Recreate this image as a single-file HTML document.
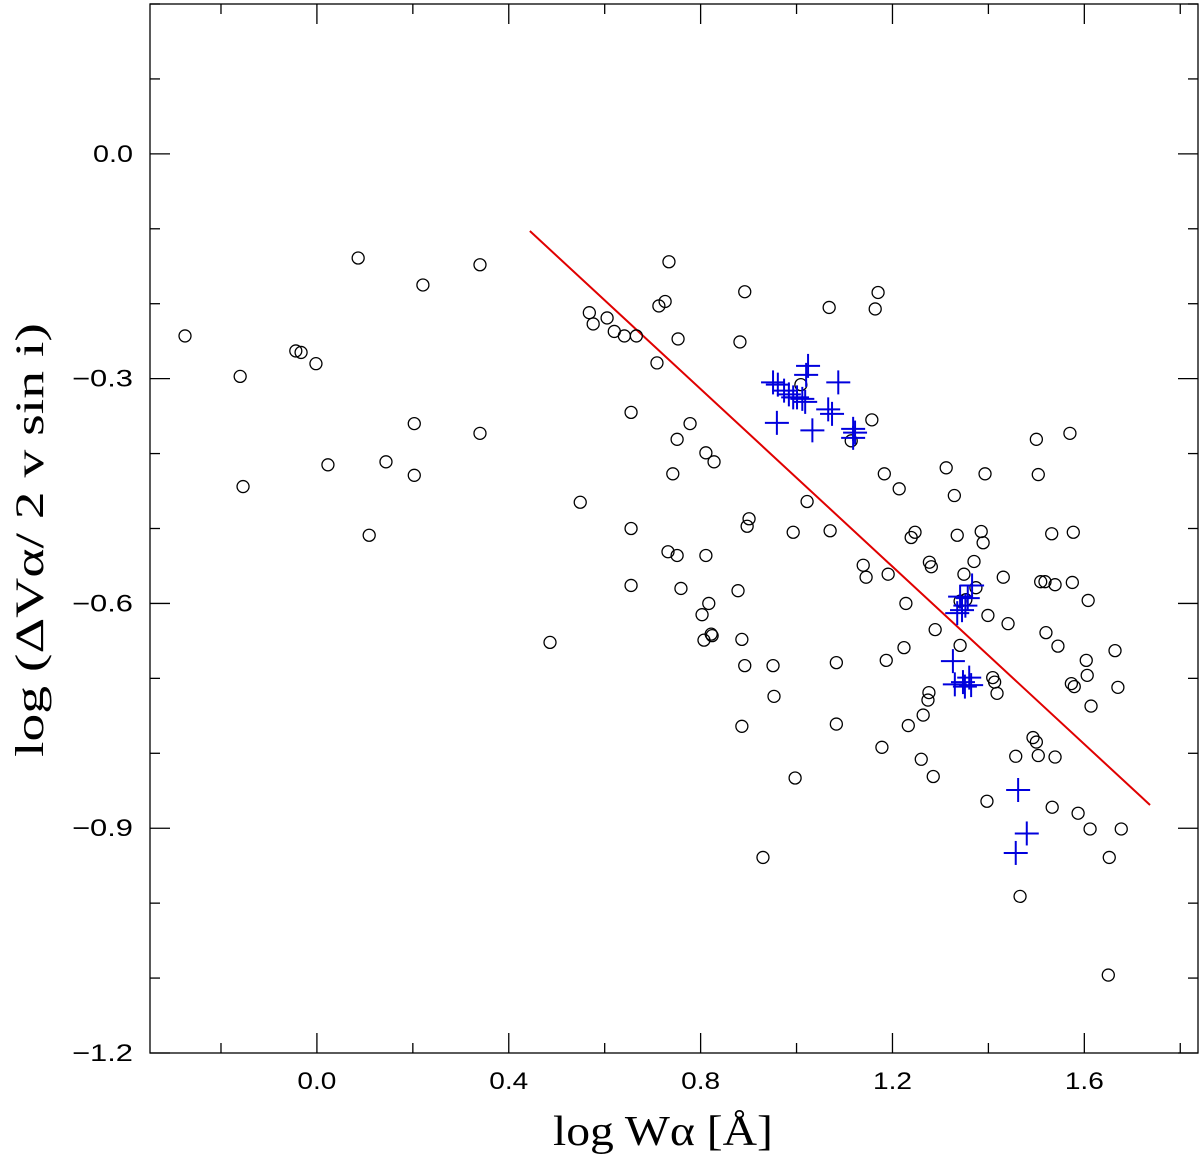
<!DOCTYPE html>
<html><head><meta charset="utf-8"><style>
html,body{margin:0;padding:0;background:#fff;}
svg{display:block;}
</style></head><body>
<svg id="chart" width="1200" height="1158" xmlns="http://www.w3.org/2000/svg"></svg>
<script>
const circleX=[-0.275,-0.16,-0.154,-0.044,-0.033,-0.002,0.023,0.086,0.109,0.144,0.203,0.203,0.221,0.34,0.34,0.486,0.549,0.568,0.576,0.605,0.62,0.641,0.666,0.655,0.655,0.655,0.709,0.713,0.726,0.734,0.732,0.742,0.751,0.753,0.759,0.751,0.778,0.803,0.807,0.811,0.817,0.811,0.822,0.824,0.828,0.878,0.882,0.886,0.886,0.892,0.892,0.897,0.901,0.951,0.953,0.993,0.997,0.93,1.009,1.022,1.068,1.07,1.083,1.083,1.114,1.139,1.145,1.157,1.164,1.17,1.183,1.187,1.191,1.178,1.214,1.224,1.228,1.233,1.239,1.247,1.26,1.264,1.277,1.281,1.289,1.274,1.276,1.285,1.312,1.329,1.335,1.341,1.341,1.349,1.353,1.37,1.374,1.389,1.385,1.393,1.399,1.397,1.409,1.413,1.418,1.431,1.441,1.457,1.466,1.493,1.5,1.504,1.5,1.504,1.509,1.518,1.52,1.532,1.539,1.545,1.539,1.533,1.57,1.575,1.577,1.573,1.579,1.604,1.606,1.608,1.587,1.612,1.614,1.652,1.664,1.67,1.677,1.65];
const circleY=[-0.243,-0.297,-0.444,-0.263,-0.265,-0.28,-0.415,-0.139,-0.509,-0.411,-0.36,-0.429,-0.175,-0.148,-0.373,-0.652,-0.465,-0.212,-0.227,-0.219,-0.237,-0.243,-0.243,-0.345,-0.5,-0.576,-0.279,-0.203,-0.197,-0.144,-0.531,-0.427,-0.536,-0.247,-0.58,-0.381,-0.36,-0.615,-0.649,-0.399,-0.6,-0.536,-0.641,-0.643,-0.411,-0.583,-0.251,-0.648,-0.764,-0.184,-0.683,-0.497,-0.487,-0.683,-0.724,-0.505,-0.833,-0.939,-0.308,-0.464,-0.205,-0.503,-0.679,-0.761,-0.383,-0.549,-0.565,-0.355,-0.207,-0.185,-0.427,-0.676,-0.561,-0.792,-0.447,-0.659,-0.6,-0.763,-0.512,-0.505,-0.808,-0.749,-0.545,-0.551,-0.635,-0.729,-0.719,-0.831,-0.419,-0.456,-0.509,-0.656,-0.597,-0.561,-0.595,-0.544,-0.579,-0.519,-0.504,-0.427,-0.616,-0.864,-0.699,-0.705,-0.72,-0.565,-0.627,-0.804,-0.991,-0.779,-0.785,-0.803,-0.381,-0.428,-0.571,-0.571,-0.639,-0.507,-0.575,-0.657,-0.805,-0.872,-0.373,-0.572,-0.505,-0.707,-0.711,-0.676,-0.696,-0.596,-0.88,-0.901,-0.737,-0.939,-0.663,-0.712,-0.901,-1.096];
const crossX=[0.951,0.961,0.974,0.984,0.993,1.001,1.012,1.018,1.024,1.02,0.959,1.033,1.066,1.074,1.087,1.122,1.118,1.118,1.352,1.341,1.345,1.335,1.366,1.357,1.326,1.33,1.36,1.364,1.347,1.351,1.462,1.457,1.48];
const crossY=[-0.305,-0.308,-0.316,-0.321,-0.325,-0.325,-0.327,-0.331,-0.283,-0.295,-0.359,-0.369,-0.341,-0.347,-0.305,-0.372,-0.367,-0.379,-0.603,-0.591,-0.609,-0.613,-0.576,-0.593,-0.677,-0.708,-0.699,-0.709,-0.705,-0.711,-0.849,-0.933,-0.907];
const fitX=[0.444,1.737];
const fitY=[-0.103,-0.869];
const xTickLabels=["0.0","0.4","0.8","1.2","1.6"];
const xTickValues=[0.0,0.4,0.8,1.2,1.6];
const yTickLabels=["0.0","\u22120.3","\u22120.6","\u22120.9","\u22121.2"];
const yTickValues=[0.0,-0.3,-0.6,-0.9,-1.2];

const L=150,R=1198,T=4,B=1053;
const xmin=-0.348,xmax=1.837,ymin=-1.2,ymax=0.2;
const sx=v=>L+(v-xmin)/(xmax-xmin)*(R-L);
const sy=v=>B-(v-ymin)/(ymax-ymin)*(B-T);
const svg=document.getElementById('chart');
const NS='http://www.w3.org/2000/svg';
function mk(tag,attrs,parent){const e=document.createElementNS(NS,tag);for(const k in attrs)e.setAttribute(k,attrs[k]);(parent||svg).appendChild(e);return e;}
function fitText(el,x,y,width,anchor,rot){
  el.setAttribute('x',0);el.setAttribute('y',0);
  const w=el.getComputedTextLength();const s=width/w;
  let ox=0;if(anchor==='middle')ox=-width/2;else if(anchor==='end')ox=-width;
  el.setAttribute('transform','translate('+x+','+y+')'+(rot?' rotate('+rot+')':'')+' translate('+ox+',0) scale('+s+',1)');
}

const frame=mk('rect',{x:L,y:T,width:R-L,height:B-T,fill:'none',stroke:'#000','stroke-width':1.3});



const ticks=mk('g',{stroke:'#000','stroke-width':1.3});


for(let i=-3;i<=18;i++){const v=i*0.1;if(v<xmin||v>xmax)continue;const x=sx(v);const major=Math.abs(Math.round(v*10)%2)===0;if(!major)continue;const len=(Math.abs(Math.round(v*10)%4)===0)?20:10;
mk('line',{x1:x,y1:B,x2:x,y2:B-len},ticks);mk('line',{x1:x,y1:T,x2:x,y2:T+len},ticks);}
for(let i=-12;i<=2;i++){const v=i*0.1;const y=sy(v);const len=(Math.abs(i)%3===0)?20:10;
mk('line',{x1:L,y1:y,x2:L+len,y2:y},ticks);mk('line',{x1:R,y1:y,x2:R-len,y2:y},ticks);}

const lf='Liberation Sans, sans-serif';
const tf='Liberation Serif, serif';
xTickValues.forEach((v,i)=>{const t=mk('text',{'font-family':lf,'font-size':24});t.textContent=xTickLabels[i];


fitText(t,sx(v),1089,39,'middle');});
yTickValues.forEach((v,i)=>{const t=mk('text',{'font-family':lf,'font-size':24});t.textContent=yTickLabels[i];


const w=yTickLabels[i].length>3?61:40;
fitText(t,133,sy(v)+8,w,'end');});

const xt=mk('text',{'font-family':tf,'font-size':42});
xt.textContent='log Wα [Å]';


fitText(xt,553,1145,220,'start');
const yt=mk('text',{'font-family':tf,'font-size':40});
yt.textContent='log (ΔVα/ 2 v sin i)';


fitText(yt,43,540,434,'middle',-90);

const fit=mk('line',{x1:sx(fitX[0]),y1:sy(fitY[0]),x2:sx(fitX[1]),y2:sy(fitY[1]),stroke:'#e00000','stroke-width':2});



circleX.forEach((v,i)=>{const c=mk('circle',{cx:sx(v),cy:sy(circleY[i]),r:6,fill:'none',stroke:'#000','stroke-width':1.3});

});
crossX.forEach((v,i)=>{const x=sx(v),y=sy(crossY[i]);const g=mk('g',{stroke:'#0000dd','stroke-width':2});


mk('line',{x1:x-12,y1:y,x2:x+12,y2:y},g);mk('line',{x1:x,y1:y-12,x2:x,y2:y+12},g);});
</script>
</body></html>
